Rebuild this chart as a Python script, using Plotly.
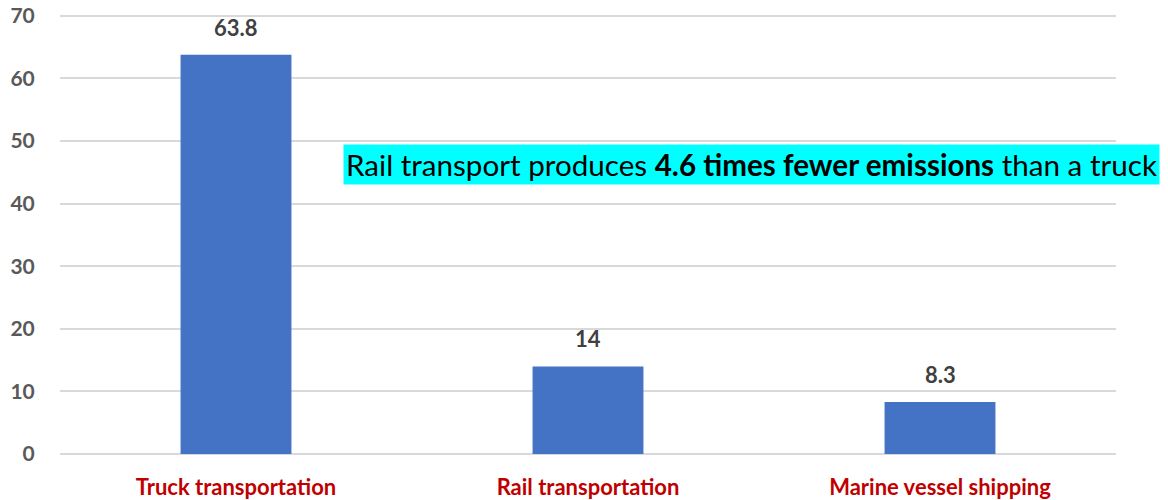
import plotly.graph_objs as go

categories = ['Truck transportation', 'Rail transportation', 'Marine vessel shipping']
emissions = [63.8, 14, 8.3]
labels = ['63.8', '14', '8.3']
tick_vals = [0, 10, 20, 30, 40, 50, 60, 70]

fig = go.Figure()
fig.add_trace(go.Bar(
    x=categories, y=emissions,
    marker=dict(color='#4472C4', line=dict(width=0)),
))

# data labels above the bars
for cat, val, lab in zip(categories, emissions, labels):
    fig.add_annotation(
        x=cat, y=val, text='<b>' + lab + '</b>', showarrow=False,
        yanchor='bottom', yshift=12,
        font=dict(family='Lato', size=22, color='#404040'),
    )

# page body has an 8px margin, so the figure is sized/offset to compensate
fig.update_layout(
    width=1160, height=492,
    margin=dict(l=52, r=52, t=6, b=46, autoexpand=False),
    plot_bgcolor='white', paper_bgcolor='white',
    bargap=0.685, showlegend=False,
    font=dict(family='Lato'),
)
fig.update_xaxes(
    showgrid=False, showline=False, ticks='', ticklabelstandoff=18,
    automargin=False,
    tickfont=dict(family='Lato', size=22, color='#C00000', weight='bold'),
)
fig.update_yaxes(
    range=[0, 70.3], tickvals=tick_vals, showgrid=True, gridcolor='#D9D9D9',
    gridwidth=2, zeroline=True, zerolinecolor='#D9D9D9', zerolinewidth=2,
    ticks='outside', ticklen=20, tickcolor='white', automargin=False,
    ticklabeloverflow='allow',
    tickfont=dict(family='Lato', size=21, color='#595959', weight='bold'),
)

fig.add_annotation(
    xref='paper', yref='y', x=0.268, y=46.3, xanchor='left', yanchor='middle',
    text='Rail transport produces <b>4.6 times fewer emissions</b> than a truck',
    showarrow=False, bgcolor='#00FFFF', borderpad=2,
    font=dict(family='Lato', size=29.6, color='black'),
)

fig.write_html("out.html")
